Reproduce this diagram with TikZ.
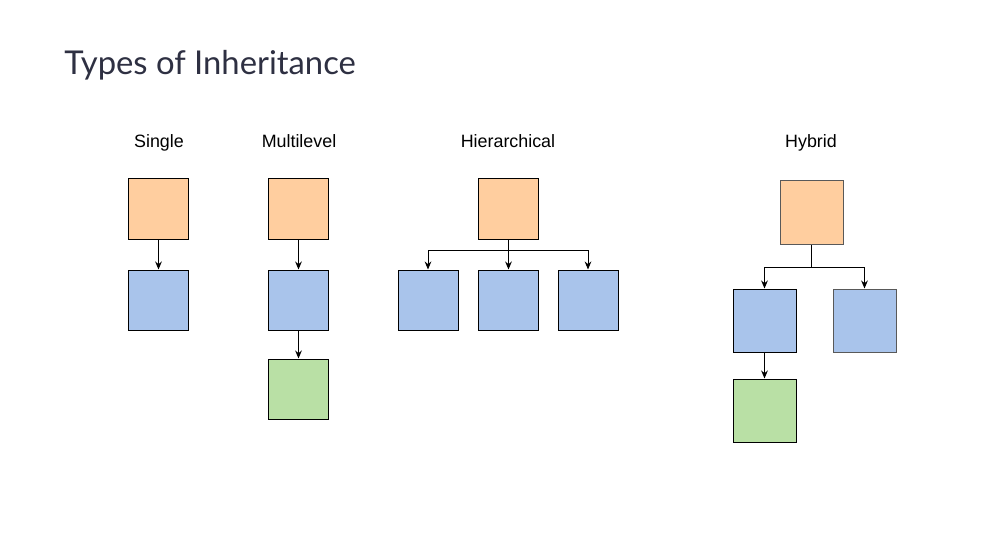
\documentclass[tikz,border=0pt]{standalone}
\usepackage{fontspec}
\setmainfont{Liberation Sans}
\newfontfamily\titlefont{Lato}
\usetikzlibrary{arrows.meta}
\definecolor{parent}{HTML}{FFCE9F}
\definecolor{child}{HTML}{A9C4EB}
\definecolor{grandchild}{HTML}{B9E0A5}
\definecolor{heading}{HTML}{2E3042}
\begin{document}
\begin{tikzpicture}[
    x=0.75pt, y=-0.75pt,
    cls/.style={draw, line width=0.75pt, minimum size=45pt, inner sep=0pt},
    big/.style={cls, minimum size=47.25pt},
    soft/.style={draw=black!65},
    label/.style={font=\fontsize{13.4}{16}\selectfont, anchor=base},
    arrow/.style={-{Stealth[length=6pt, width=5pt]}, line width=0.75pt},
    link/.style={line width=0.75pt}
]
\useasboundingbox (0,0) rectangle (985,556);

% Title
\node[font=\titlefont\fontsize{24.6}{30}\selectfont, text=heading, anchor=base west, inner sep=0pt] (title) at (64,75) {Types of Inheritance};

% Column headings
\node[label] (single) at (159,148) {Single};
\node[label] (multi) at (299,148) {Multilevel};
\node[label] (hier) at (508,148) {Hierarchical};
\node[label] (hybrid) at (811,148) {Hybrid};

% Single
\node[cls, fill=parent] (sA) at (158.5,209) {};
\node[cls, fill=child] (sB) at (158.5,300) {};
\draw[arrow] (sA.south) -- (sB.north);

% Multilevel
\node[cls, fill=parent] (mA) at (298.5,209) {};
\node[cls, fill=child] (mB) at (298.5,300) {};
\node[cls, fill=grandchild] (mC) at (298.5,389) {};
\draw[arrow] (mA.south) -- (mB.north);
\draw[arrow] (mB.south) -- (mC.north);

% Hierarchical
\node[cls, fill=parent] (hA) at (508.5,209) {};
\node[cls, fill=child] (hB) at (428,300) {};
\node[cls, fill=child] (hC) at (508.5,300) {};
\node[cls, fill=child] (hD) at (588,300) {};
\coordinate (hsplit) at (508.5,250);
\draw[link] (hA.south) -- (hsplit);
\draw[arrow] (hsplit) -| (hB.north);
\draw[arrow] (hsplit) -- (hC.north);
\draw[arrow] (hsplit) -| (hD.north);

% Hybrid
\node[big, soft, fill=parent] (yA) at (811.5,212.5) {};
\node[big, fill=child] (yB) at (764.5,320.5) {};
\node[big, soft, fill=child] (yC) at (864.5,320.5) {};
\node[big, fill=grandchild] (yD) at (764.5,410.5) {};
\coordinate (ysplit) at (811.5,267);
\draw[link] (yA.south) -- (ysplit);
\draw[arrow] (ysplit) -| (yB.north);
\draw[arrow] (ysplit) -| (yC.north);
\draw[arrow] (yB.south) -- (yD.north);

\end{tikzpicture}
\end{document}
